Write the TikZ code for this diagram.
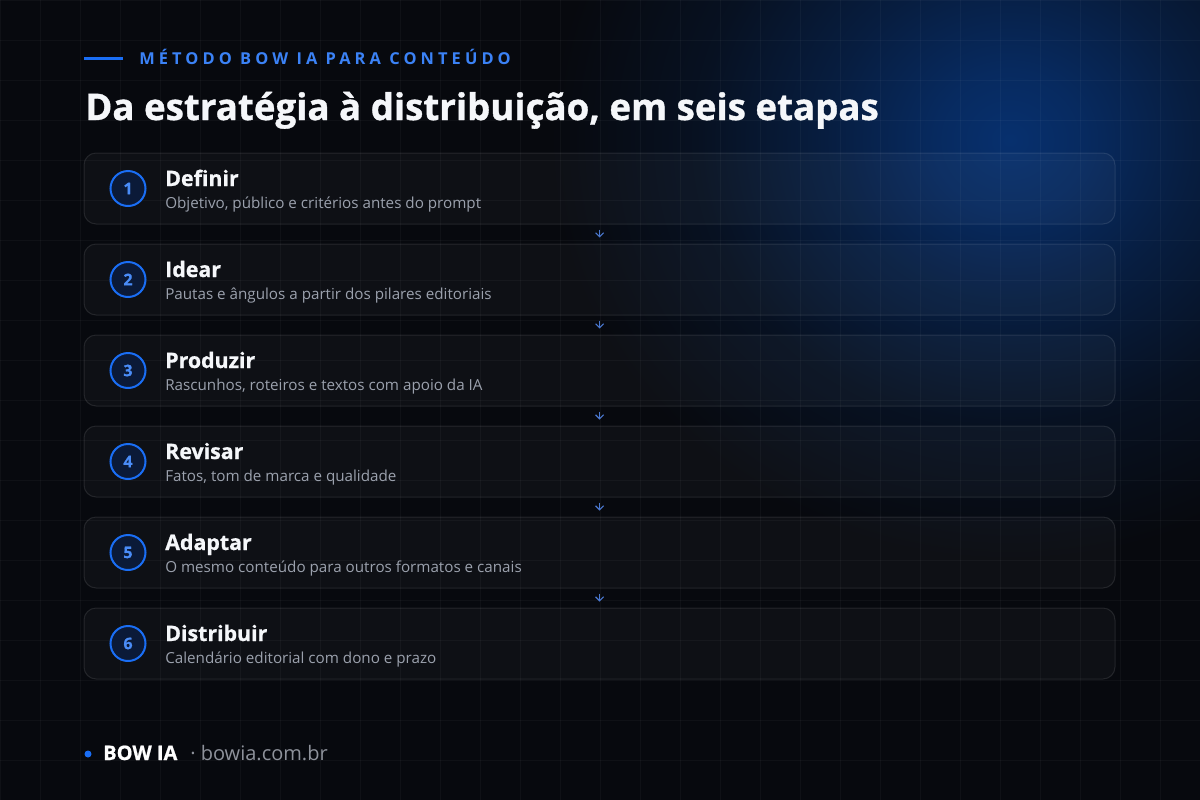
\documentclass[tikz,border=0pt]{standalone}
\usepackage{fontspec}
\setmainfont{Open Sans}
\usetikzlibrary{arrows.meta}
\definecolor{bg}{HTML}{07090E}
\definecolor{glowc}{HTML}{07306E}
\definecolor{accent}{HTML}{1A6EF5}
\definecolor{eyebrow}{HTML}{3B82F6}
\definecolor{circfill}{HTML}{0B1A38}
\definecolor{numblue}{HTML}{4A8CF7}
\definecolor{subgray}{HTML}{9BA1AD}
\definecolor{urlgray}{HTML}{8E929B}
\definecolor{arrowc}{HTML}{4A78D0}
\definecolor{titlewhite}{HTML}{F5F7FA}
\pgfdeclareradialshading{glowshade}{\pgfpoint{0bp}{0bp}}{color(0bp)=(glowc); color(4bp)=(glowc!85!bg); color(10bp)=(glowc!52!bg); color(17bp)=(glowc!20!bg); color(25bp)=(bg); color(50bp)=(bg)}
\tikzset{
  gridline/.style={white, opacity=0.035, line width=0.75pt},
  card/.style={rectangle, rounded corners=9pt, minimum width=1031*0.75pt, minimum height=71*0.75pt, inner sep=0pt, fill=white, fill opacity=0.03, draw=white, draw opacity=0.10, line width=0.75pt},
  numcirc/.style={circle, minimum size=35*0.75pt, inner sep=0pt, draw=accent, line width=1.5pt, fill=circfill, text=numblue, font=\bfseries\fontsize{12}{12}\selectfont\addfontfeatures{FakeBold=0.6}},
  steptitle/.style={anchor=base west, inner sep=0pt, text=titlewhite, font=\bfseries\fontsize{16}{18}\selectfont\addfontfeatures{FakeBold=0.8}},
  stepsub/.style={anchor=base west, inner sep=0pt, text=subgray, font=\fontsize{11.4}{14}\selectfont},
  flowarrow/.style={draw=arrowc, line width=0.8pt, -{Straight Barb[length=3pt,width=6pt]}, shorten <=3.75pt, shorten >=4.5pt}
}
\begin{document}
\begin{tikzpicture}[x=0.75pt,y=-0.75pt]
\useasboundingbox (0,0) rectangle (1200,800);
\clip (0,0) rectangle (1200,800);
\fill[bg] (0,0) rectangle (1200,800);
\shade[shading=glowshade] (1010,140) ellipse [x radius=460, y radius=420];
\foreach \i in {0,40,...,1200} \draw[gridline] (\i,0) -- (\i,800);
\foreach \j in {0,40,...,800} \draw[gridline] (0,\j) -- (1200,\j);

% header
\coordinate (la) at (84,58);
\coordinate (lb) at (123,58);
\draw[accent, line width=2.25pt] (la) -- (lb);
\node[anchor=base west, inner sep=0pt, text=eyebrow, font=\bfseries\fontsize{12.3}{13}\selectfont\addfontfeatures{LetterSpace=25}] (eyebrow) at (139,64) {MÉTODO BOW IA PARA CONTEÚDO};
\node[anchor=base west, inner sep=0pt, text=titlewhite, font=\bfseries\fontsize{27.5}{32}\selectfont\addfontfeatures{FakeBold=1}] (title) at (85,120) {Da estratégia à distribuição, em seis etapas};

% cards
\foreach \k/\t/\s [count=\n] in {
  Definir/{Objetivo, público e critérios antes do prompt},
  Idear/{Pautas e ângulos a partir dos pilares editoriais},
  Produzir/{Rascunhos, roteiros e textos com apoio da IA},
  Revisar/{Fatos, tom de marca e qualidade},
  Adaptar/{O mesmo conteúdo para outros formatos e canais},
  Distribuir/{Calendário editorial com dono e prazo}} {
  \pgfmathsetmacro{\cy}{188.5+91*(\n-1)}
  \node[card] (c\n) at (599.5,\cy) {};
  \node[numcirc] (n\n) at (128,\cy) {\n};
  \node[steptitle] (t\n) at (165,\cy-2.5) {\k};
  \node[stepsub] (s\n) at (165,\cy+19.5) {\t};
}
\foreach \a/\b in {1/2,2/3,3/4,4/5,5/6}
  \draw[flowarrow] (c\a.south) -- (c\b.north);

% footer
\node[circle, fill=accent, inner sep=0pt, minimum size=7*0.75pt] (dot) at (88,754) {};
\node[anchor=base west, inner sep=0pt, text=white, font=\bfseries\fontsize{15}{17}\selectfont\addfontfeatures{FakeBold=0.8}] (brand) at (103,760) {BOW IA};
\node[anchor=base west, inner sep=0pt, text=urlgray, font=\fontsize{15}{17}\selectfont] (url) at (190,760) {· bowia.com.br};
\end{tikzpicture}
\end{document}
